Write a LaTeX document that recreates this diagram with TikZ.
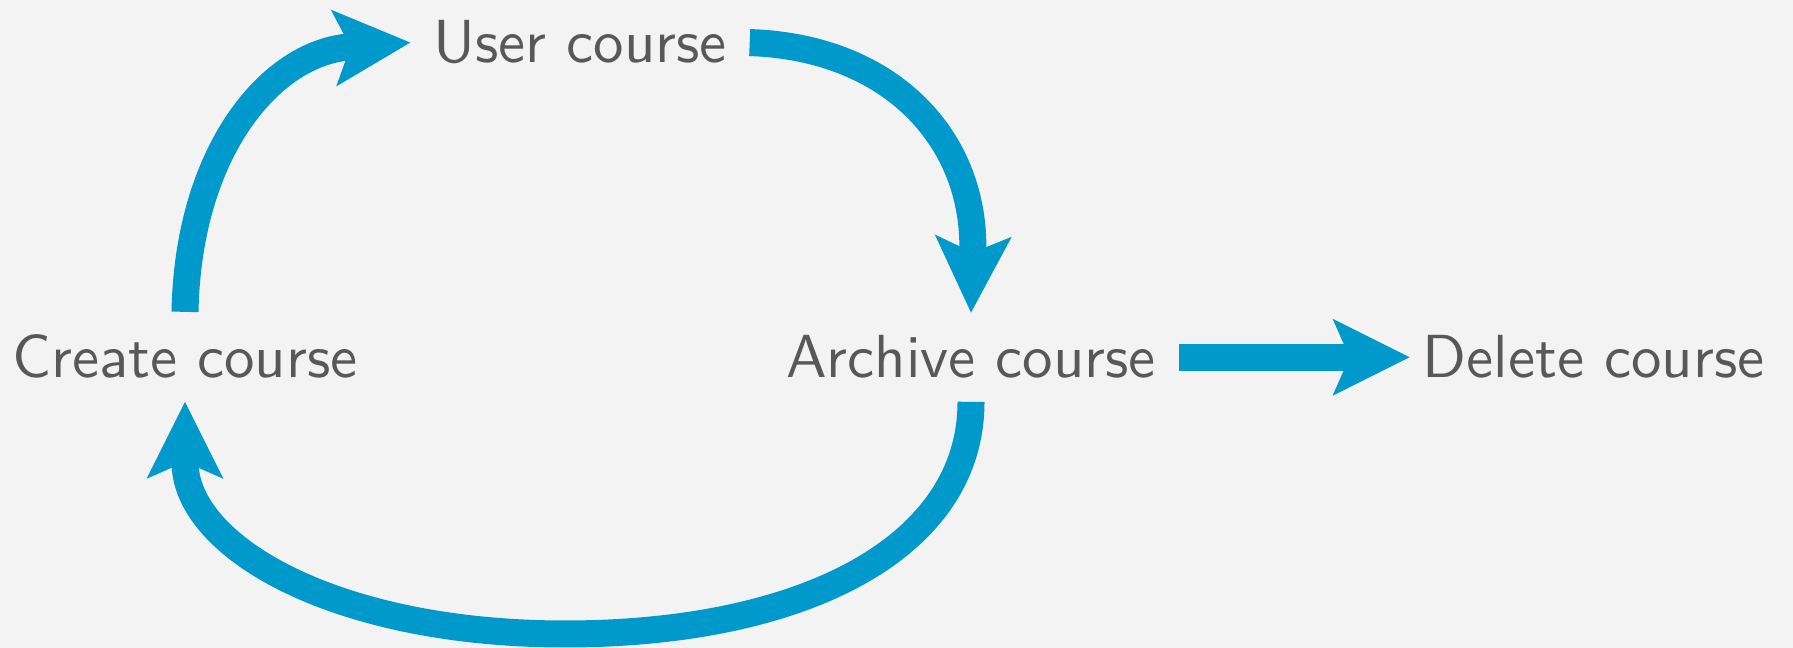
\documentclass[tikz,border=0pt]{standalone}
\usetikzlibrary{arrows.meta, positioning}
\definecolor{flowblue}{RGB}{0,153,204}
\definecolor{textgray}{RGB}{88,88,88}
\definecolor{paper}{RGB}{243,243,243}
\tikzset{
    stage/.style={inner sep=0.127cm, anchor=base, text=textgray, scale=1.73,
        font=\sffamily\fontsize{10}{12}\selectfont},
    flow/.style={draw=flowblue, line width=0.27cm,
        -{Stealth[length=7.7mm, width=7.7mm, inset=1.7mm, line width=0pt, fill=flowblue]}}
}
\begin{document}
\begin{tikzpicture}

        % Background
        \fill[paper] (0,0) rectangle (17.93,6.48);
        \useasboundingbox (0,0) rectangle (17.93,6.48);

        % Create course
        \node[stage] (create) at (1.85,2.70) {Create course};

        % User course
        \node[stage] (user) at (5.80,5.85) {User course};
        \draw[flow] (create.north) .. controls +(0.03,1.6) and +(-1.40,-0.10) .. (user.west);

        % Archive course
        \node[stage] (archive) at (9.71,2.70) {Archive course};
        \draw[flow] (user.east) .. controls +(1.45,-0.05) and +(0.05,1.7) .. (archive.north);

        % Back to create
        \coordinate (low) at (5.65,0.14);
        \draw[flow] (archive.south) .. controls +(0,-1.45) and +(2.4,0) .. (low)
            .. controls +(-2.3,0) and +(0,-1.45) .. (create.south);

        % Delete course
        \node[stage] (delete) at (15.935,2.70) {Delete course};
        \draw[flow, shorten >=-0.1cm] (archive.east) -- (delete.west);

    \end{tikzpicture}
\end{document}
